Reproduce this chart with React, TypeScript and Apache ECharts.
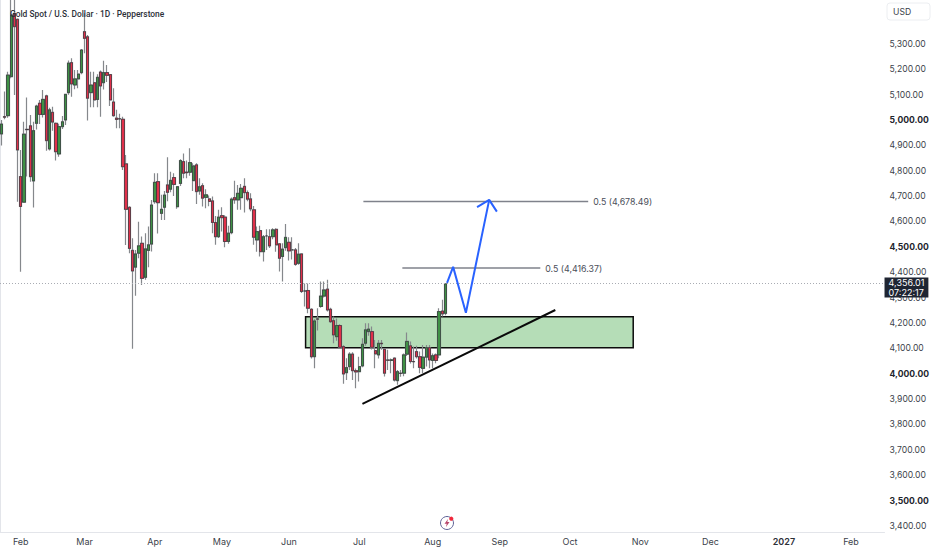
import React, { useEffect, useRef } from "react";
import * as echarts from "echarts";

const opens = [4945,5013,5017,5171,5420,5397,4777,4676,4963,4977,
4760,4987,5066,5022,5095,4886,5030,4987,4866,4974,
5000,5108,5226,5138,5162,5187,5348,5328,5108,5147,
5081,5189,5147,5187,5179,5071,5007,5005,5003,4827,
4656,4486,4420,4475,4514,4380,4486,4511,4678,4757,
4632,4656,4744,4727,4773,4658,4750,4836,4795,4794,
4761,4823,4720,4741,4695,4689,4681,4596,4540,4623,
4617,4521,4556,4694,4685,4694,4738,4714,4689,4646,
4527,4564,4481,4543,4540,4540,4569,4512,4462,4497,
4518,4488,4488,4435,4472,4326,4328,4254,4067,4216,
4265,4306,4333,4254,4209,4146,4190,4107,4004,4028,
4077,4012,4008,4031,4120,4166,4166,4091,4074,4120,
4096,4054,4052,4061,3973,4002,4002,4077,4110,4048,
4087,4067,4021,4065,4103,4052,4074,4074,4247,4238];
const closes = [4984,5011,5177,5414,5368,4882,4659,4944,4962,4777,
4958,5055,5022,5081,4919,5040,4992,4875,4974,4993,
5101,5224,5142,5162,5181,5276,5322,5086,5138,5079,
5168,5134,5187,5176,5079,5017,5002,5004,4816,4648,
4494,4405,4472,4504,4376,4492,4508,4665,4754,4674,
4648,4704,4715,4762,4746,4737,4840,4790,4792,4832,
4819,4718,4737,4692,4705,4679,4596,4540,4617,4615,
4521,4554,4688,4685,4711,4731,4714,4688,4650,4538,
4560,4481,4540,4543,4504,4567,4508,4455,4491,4537,
4484,4488,4431,4471,4324,4326,4258,4067,4208,4215,
4306,4330,4251,4205,4153,4190,4104,3999,4024,4077,
4012,4007,4028,4116,4173,4176,4104,4078,4120,4118,
4002,4053,4055,3975,4008,4001,4074,4127,4048,4047,
4067,4025,4065,4103,4054,4071,4052,4245,4236,4354];
const lows = [4899,5003,5009,5165,5099,4678,4402,4676,4777,4757,
4655,4963,4984,5010,4879,4880,4958,4840,4855,4965,
4980,5100,5092,5121,5125,5180,5263,4998,5050,5050,
5050,5013,5120,5150,5055,5013,4967,4967,4803,4507,
4475,4098,4307,4455,4350,4370,4420,4482,4670,4553,
4606,4606,4680,4715,4700,4650,4740,4770,4770,4780,
4720,4669,4705,4659,4652,4660,4554,4508,4535,4560,
4498,4512,4550,4670,4646,4646,4635,4680,4640,4508,
4481,4462,4442,4488,4495,4530,4481,4403,4363,4485,
4446,4450,4425,4429,4318,4265,4238,4060,4021,4170,
4260,4300,4245,4200,4120,4130,4100,3960,3975,4015,
3975,3943,3969,4025,4110,4150,4095,4021,4060,4094,
3989,4015,4002,3969,3956,3988,3990,4070,4040,4021,
4060,4002,4002,4028,4021,4021,4041,4061,4225,4230];
const highs = [5000,5112,5190,5480,5500,5400,4882,4993,5089,5020,
4993,5060,5079,5118,5100,5048,5052,4990,4985,5016,
5103,5235,5243,5197,5197,5280,5421,5335,5190,5190,
5180,5195,5234,5217,5180,5125,5040,5025,5013,4862,
4660,4534,4488,4599,4541,4554,4580,4685,4790,4790,
4705,4720,4853,4796,4790,4740,4845,4868,4840,4889,
4830,4830,4770,4751,4727,4702,4698,4622,4646,4656,
4625,4583,4695,4761,4744,4748,4770,4722,4711,4661,
4580,4583,4547,4569,4569,4573,4573,4514,4514,4590,
4538,4538,4495,4514,4475,4356,4356,4258,4215,4258,
4363,4363,4370,4260,4225,4218,4195,4112,4061,4085,
4085,4020,4067,4140,4199,4199,4186,4133,4133,4133,
4100,4094,4060,4065,4015,4015,4080,4162,4127,4107,
4110,4087,4113,4113,4113,4080,4080,4258,4291,4356];

const slotCount = 277;
const monthIndexes = [6, 26, 48, 69, 90, 112, 135, 156, 178, 200, 222, 245, 266];
const monthNames = ["Feb", "Mar", "Apr", "May", "Jun", "Jul", "Aug", "Sep", "Oct", "Nov", "Dec", "2027", "Feb"];
const priceTicks = [3400,3500,3600,3700,3800,3900,4000,4100,4200,4300,4400,4500,4600,4700,4800,4900,5000,5100,5200,5300];
const strongTicks = [3500, 4000, 4500, 5000];
const lastPrice = 4356.01;
const countdown = "07:22:17";

const zoneX = [95.7, 198.3];
const zoneY = [4224, 4102];
const trendLine = [[113.5, 3881], [173.9, 4251]];
const levelUpper = [[113.8, 4678.49], [184.2, 4678.49]];
const levelLower = [[126, 4416.37], [169.2, 4416.37]];
const arrowPath = [[140, 4358], [141.9, 4421], [145.9, 4240], [153.2, 4685]];
const arrowHead = [[149.4, 4657], [153.2, 4685], [155.6, 4639]];

const font = "Inter, 'Noto Sans', sans-serif";
const ink = "#3b3f4a";

export default function App() {
  const ref = useRef<HTMLDivElement>(null);
  useEffect(() => {
    document.body.style.margin = "0";
    document.body.style.overflow = "hidden";
    const chart = echarts.init(ref.current!, undefined, { renderer: "svg" });
    const categories = Array.from({ length: slotCount }, (_, i) => {
      const k = monthIndexes.indexOf(i);
      return k >= 0 ? monthNames[k] : "";
    });
    const overlay = (data: number[][], color: string, width: number, extra: any = {}) => ({
      type: "line",
      xAxisIndex: 1,
      data,
      showSymbol: false,
      symbol: "none",
      silent: true,
      z: 5,
      lineStyle: { color, width },
      ...extra,
    });
    const levelLabel = (text: string) => ({
      endLabel: { show: true, formatter: text, distance: 5, color: "#4a4e59", fontSize: 8.8, fontFamily: font },
    });
    chart.setOption({
      animation: false,
      backgroundColor: "#ffffff",
      title: {
        text: "Gold Spot / U.S. Dollar · 1D · Pepperstone",
        left: 5,
        top: 5,
        z: 20,
        textStyle: { fontFamily: "Roboto, sans-serif", fontSize: 8.4, fontWeight: 500, color: "#2c2f38" },
      },
      grid: { left: -1, right: 47, top: 0, bottom: 18 },
      xAxis: [
        {
          type: "category",
          data: categories,
          boundaryGap: true,
          axisLine: { show: true, lineStyle: { color: "#e3e5ea", width: 1 } },
          axisTick: { show: false },
          splitLine: { show: false },
          axisLabel: {
            interval: (i: number) => monthIndexes.includes(i),
            formatter: (v: string) => (v === "2027" ? `{b|${v}}` : v),
            rich: { b: { fontFamily: font, fontSize: 9, fontWeight: 600, color: "#2c2f38" } },
            color: ink,
            fontSize: 9,
            fontFamily: font,
            margin: 5,
          },
        },
        { type: "value", min: 0, max: slotCount, show: false },
      ],
      yAxis: {
        type: "value",
        position: "right",
        min: 3376,
        max: 5473,
        axisLine: { show: true, lineStyle: { color: "#e3e5ea", width: 1 } },
        axisTick: { show: false },
        splitLine: { show: false },
        axisLabel: {
          customValues: priceTicks,
          margin: 5,
          color: ink,
          fontSize: 8.6,
          fontFamily: font,
          formatter: (v: number) => {
            const s = v.toLocaleString("en-US", { minimumFractionDigits: 2 });
            return strongTicks.includes(v) ? `{b|${s}}` : s;
          },
          rich: { b: { fontFamily: font, fontSize: 8.6, fontWeight: 700, color: "#22252c" } },
        },
      },
      series: [
        {
          type: "candlestick",
          data: opens.map((o, i) => [o, closes[i], lows[i], highs[i]]),
          barWidth: 2.8,
          itemStyle: {
            color: "#3f9145",
            color0: "#e0304a",
            borderColor: "#85888c",
            borderColor0: "#85888c",
            borderColorDoji: "#85888c",
            borderWidth: 1.2,
          },
          z: 3,
          markLine: {
            silent: true,
            symbol: "none",
            animation: false,
            lineStyle: { color: "#a9acb3", type: [1, 2], width: 1 },
            label: {
              show: true,
              position: "end",
              formatter: `${lastPrice.toLocaleString("en-US")}\n${countdown}`,
              backgroundColor: "#1f2532",
              color: "#ffffff",
              fontFamily: font,
              fontSize: 9,
              lineHeight: 9.5,
              padding: [1, 4, 0, 4],
              distance: 0,
              offset: [0, 4],
            },
            data: [{ yAxis: lastPrice }],
          },
        },
        {
          type: "candlestick",
          data: opens.map((o, i) => [o, closes[i], Math.min(o, closes[i]), Math.max(o, closes[i])]),
          barWidth: 2.8,
          itemStyle: {
            color: "#3f9145",
            color0: "#e0304a",
            borderColor: "#2a2c30",
            borderColor0: "#2a2c30",
            borderColorDoji: "#2a2c30",
            borderWidth: 0.6,
          },
          z: 4,
        },
        overlay([], "#000", 0, {
          markArea: {
            silent: true,
            itemStyle: { color: "rgba(70,170,75,0.4)", borderColor: "#0c0c0c", borderWidth: 1.5 },
            data: [[{ coord: [zoneX[0], zoneY[0]] }, { coord: [zoneX[1], zoneY[1]] }]],
          },
        }),
        overlay(trendLine, "#0a0a0a", 2),
        overlay(levelUpper, "#7f828b", 1.5, levelLabel("0.5 (4,678.49)")),
        overlay(levelLower, "#7f828b", 1.5, levelLabel("0.5 (4,416.37)")),
        overlay(arrowPath, "#2962ff", 2),
        overlay(arrowHead, "#2962ff", 2),
      ],
      graphic: [
        {
          type: "rect",
          shape: { x: 887, y: 3, width: 43, height: 17, r: 3 },
          style: { fill: "#fff", stroke: "#eceef1", lineWidth: 1 },
        },
        {
          type: "text",
          x: 893,
          y: 7,
          style: { text: "USD", fontFamily: font, fontSize: 8.6, fill: ink },
        },
        {
          type: "group",
          x: 447,
          y: 523,
          children: [
            { type: "circle", shape: { cx: 0, cy: 0, r: 6.5 }, style: { fill: "none", stroke: "#5e6196", lineWidth: 1 } },
            { type: "polygon", shape: { points: [[1, -4], [-2.5, 0.8], [-0.3, 0.8], [-1, 4], [2.5, -1], [0.3, -1]] }, style: { fill: "#b9456b" } },
            { type: "circle", shape: { cx: 4.3, cy: -4.3, r: 2.1 }, style: { fill: "#f0283c" } },
          ],
        },
      ],
    });
    return () => chart.dispose();
  }, []);
  return <div ref={ref} style={{ width: 932, height: 550 }} />;
}
